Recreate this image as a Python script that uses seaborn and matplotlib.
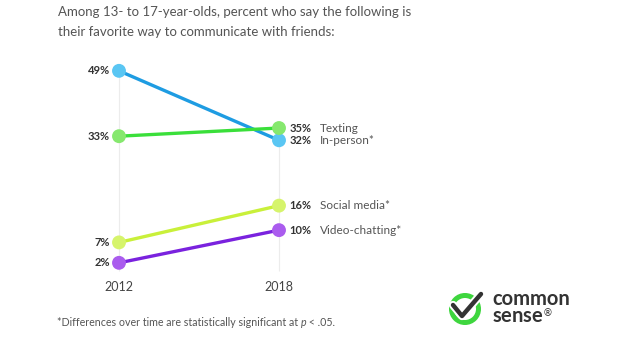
import matplotlib
matplotlib.use('Agg')
import matplotlib.pyplot as plt
import matplotlib.patheffects as pe
import pandas as pd
import seaborn as sns
from matplotlib.patches import Circle

# data
years = [2012, 2018]
categories = ['In-person*', 'Texting', 'Social media*', 'Video-chatting*']
share_2012 = [49, 33, 7, 2]
share_2018 = [32, 35, 16, 10]
line_colors = ['#1E9CE2', '#3ADF3A', '#C9F03A', '#7A22DE']
dot_colors = ['#5AC6F3', '#86E86E', '#D6F46C', '#AA5CEE']

rows = []
for cat, a, b in zip(categories, share_2012, share_2018):
    rows.append({'category': cat, 'year': years[0], 'share': a})
    rows.append({'category': cat, 'year': years[1], 'share': b})
df = pd.DataFrame(rows)

sns.set_style('white')
plt.rcParams['font.family'] = ['Lato', 'DejaVu Sans']

fig = plt.figure(figsize=(6.3, 3.54), dpi=100)
ax = fig.add_axes([0, 0, 1, 1])

# light vertical guides at each year
for yr in years:
    top = df.loc[df['year'] == yr, 'share'].max()
    ax.vlines(yr, 0, top, color='#ececec', lw=0.8, zorder=0)

sns.lineplot(data=df, x='year', y='share', hue='category', hue_order=categories,
             palette=line_colors, lw=2.4, legend=False, ax=ax, zorder=2)
sns.scatterplot(data=df, x='year', y='share', hue='category', hue_order=categories,
                palette=dot_colors, s=100, edgecolor='none', legend=False, ax=ax, zorder=3)

# value labels
for cat, a, b in zip(categories, share_2012, share_2018):
    ax.text(years[0] - 0.34, a, f'{a}%', ha='right', va='center', fontsize=8,
            fontweight='bold', color='#333333')
    ax.text(years[1] + 0.40, b, f'{b}%', ha='left', va='center', fontsize=8,
            fontweight='bold', color='#333333')
    ax.text(years[1] + 1.55, b, cat, ha='left', va='center', fontsize=8.5,
            color='#555555')

for yr in years:
    ax.text(yr, -4, str(yr), ha='center', va='center', fontsize=9, color='#444444')

ax.set_xlim(2012 - 119 / 26.667, 2012 + 511 / 26.667)
ax.set_ylim(-83 / 4.085, 271 / 4.085)
ax.axis('off')

# title and footnote
fig.text(58 / 630, 1 - 12 / 354, 'Among 13- to 17-year-olds, percent who say the following is',
         fontsize=9.55, color='#555555', va='center', ha='left')
fig.text(58 / 630, 1 - 32 / 354, 'their favorite way to communicate with friends:',
         fontsize=9.55, color='#555555', va='center', ha='left')

renderer = fig.canvas.get_renderer()
x0 = 57
for part, style in [('*Differences over time are statistically significant at ', 'normal'),
                    ('p', 'italic'), (' < .05.', 'normal')]:
    t = fig.text(x0 / 630, 1 - 323 / 354, part, fontsize=7.65, color='#555555',
                 va='center', ha='left', style=style)
    x0 = t.get_window_extent(renderer).x1

# logo
lx = fig.add_axes([0, 0, 1, 1])
lx.set_xlim(0, 630)
lx.set_ylim(354, 0)
lx.axis('off')
lx.patch.set_alpha(0)
lx.add_patch(Circle((465, 309), 13.5, fill=False, ec='#3ED63E', lw=3.6))
lx.plot([453, 462, 481], [305, 316, 294], color='#333333', lw=3.2,
        solid_capstyle='round', solid_joinstyle='round',
        path_effects=[pe.Stroke(linewidth=6, foreground='white'), pe.Normal()])
lx.text(492, 308, 'common\nsense${}^{{}_{\\circledR}}$', fontsize=14.5, fontweight='bold',
        color='#333333', ha='left', va='center', linespacing=0.82)

fig.savefig('out.png', dpi=100, facecolor='white')
